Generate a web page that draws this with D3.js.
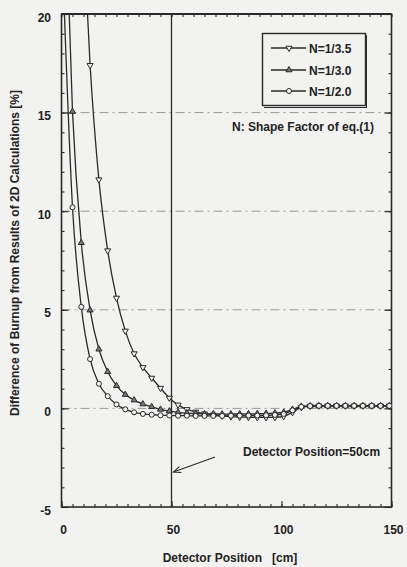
<!DOCTYPE html>
<html><head><meta charset="utf-8">
<script src="https://cdn.jsdelivr.net/npm/d3@7"></script>
<style>
html,body{margin:0;padding:0;background:#f2f2f0;}
svg{display:block;}
text{font-family:"Liberation Sans",Arial,sans-serif;font-weight:bold;fill:#222;font-size:12px;}
</style></head><body>
<svg id="c" width="407" height="567"></svg>
<script>
// ---- data ----
const positions = [1,5,9,13,17,21,25,29,33,37,41,45,49,53,57,61,65,69,73,77,81,85,89,93,97,101,105,109,113,117,121,125,129,133,137,141,145,149];
const seriesNames = ["N=1/3.5","N=1/3.0","N=1/2.0"];
const n35 = [null,null,26.3,17.4,11.6,8.0,5.6,3.93,2.78,2.08,1.54,1.03,0.53,0.18,-0.05,-0.18,-0.27,-0.33,-0.38,-0.42,-0.44,-0.45,-0.46,-0.46,-0.45,-0.4,-0.2,0.05,0.12,0.13,0.13,0.13,0.13,0.13,0.13,0.13,0.13,0.13];
const n30 = [28.3,15.05,8.4,4.98,3.0,1.86,1.15,0.7,0.42,0.22,0.08,-0.05,-0.14,-0.2,-0.24,-0.26,-0.28,-0.28,-0.29,-0.29,-0.28,-0.28,-0.27,-0.26,-0.24,-0.2,-0.05,0.1,0.12,0.13,0.13,0.13,0.13,0.13,0.13,0.13,0.13,0.13];
const n20 = [21,10.2,5.15,2.5,1.25,0.62,0.2,-0.05,-0.2,-0.28,-0.32,-0.35,-0.36,-0.37,-0.37,-0.38,-0.38,-0.38,-0.38,-0.37,-0.37,-0.36,-0.36,-0.35,-0.33,-0.28,-0.1,0.08,0.12,0.13,0.13,0.13,0.13,0.13,0.13,0.13,0.13,0.13];
const yTicks = [-5,0,5,10,15,20];
const xTicks = [0,50,100,150];
const gridValues = [0,5,10,15];
const detectorPos = 50;

// ---- layout ----
const L = 61.5, R = 391.5, T = 14, B = 507;
const ink = "#2a2a2a";
const svg = d3.select("#c");
const x = d3.scaleLinear().domain([0,150]).range([L,R]);
const y = d3.scaleLinear().domain([-5,20]).range([B,T]);

svg.append("defs").append("clipPath").attr("id","clip")
  .append("rect").attr("x",L).attr("y",T).attr("width",R-L).attr("height",B-T);

// grid lines (dash-dot)
svg.append("g").selectAll("line").data(gridValues).join("line")
  .attr("x1",L).attr("x2",R).attr("y1",d=>y(d)).attr("y2",d=>y(d))
  .attr("stroke","#999").attr("stroke-width",1).attr("stroke-dasharray","9,4,2,4");

// detector position line
svg.append("line").attr("x1",x(detectorPos)).attr("x2",x(detectorPos)).attr("y1",T).attr("y2",B)
  .attr("stroke",ink).attr("stroke-width",1.3);

// axes with inward ticks
function axisGroup(axis, tx, ty){
  const g = svg.append("g").attr("transform",`translate(${tx},${ty})`).call(axis);
  g.selectAll("text").remove(); g.select(".domain").remove();
  g.selectAll("line").attr("stroke",ink).attr("stroke-width",1.1);
  return g;
}
const yMinor = d3.range(-5,21,1);
const xMinor = d3.range(0,151,5);
axisGroup(d3.axisLeft(y).tickValues(yMinor).tickSize(-3), L, 0);
axisGroup(d3.axisLeft(y).tickValues(yTicks).tickSize(-7), L, 0);
axisGroup(d3.axisRight(y).tickValues(yMinor).tickSize(-3), R, 0);
axisGroup(d3.axisRight(y).tickValues(yTicks).tickSize(-7), R, 0);
axisGroup(d3.axisBottom(x).tickValues(xMinor).tickSize(-3), 0, B);
axisGroup(d3.axisBottom(x).tickValues(xTicks).tickSize(-6), 0, B);
axisGroup(d3.axisTop(x).tickValues(xMinor).tickSize(-3), 0, T);

// frame
svg.append("rect").attr("x",L).attr("y",T).attr("width",R-L).attr("height",B-T)
  .attr("fill","none").attr("stroke",ink).attr("stroke-width",1.6);
svg.append("line").attr("x1",L).attr("x2",R).attr("y1",T).attr("y2",T).attr("stroke",ink).attr("stroke-width",2.2);

// tick labels
svg.append("g").selectAll("text").data(yTicks).join("text")
  .attr("x",51).attr("y",d=>y(d)+7.5).attr("text-anchor","end").text(d=>d);
svg.append("g").selectAll("text").data(xTicks).join("text")
  .attr("x",d=>x(d)+2).attr("y",534).attr("text-anchor","middle").text(d=>d);

// titles
svg.append("text").attr("x",230).attr("y",562).attr("text-anchor","middle")
  .style("white-space","pre").text("Detector Position   [cm]");
svg.append("text").attr("transform","translate(19,253) rotate(-90)").attr("text-anchor","middle")
  .text("Difference of Burnup from Results of 2D Calculations [%]");

// series
const series = [
  {name:seriesNames[0], values:n35, sym:"down", fill:"#f2f2f0"},
  {name:seriesNames[1], values:n30, sym:"up", fill:"#777"},
  {name:seriesNames[2], values:n20, sym:"circle", fill:"#f2f2f0"}
];
function symPath(s){
  if(s==="circle") return d3.symbol(d3.symbolCircle,20)();
  return d3.symbol(d3.symbolTriangle,16)();
}
const line = d3.line().defined(d=>d[1]!==null).x(d=>x(d[0])).y(d=>y(d[1])).curve(d3.curveMonotoneX);
const plot = svg.append("g").attr("clip-path","url(#clip)");
series.forEach(s=>{
  const pts = positions.map((p,i)=>[p,s.values[i]]);
  plot.append("path").datum(pts).attr("d",line).attr("fill","none").attr("stroke",ink).attr("stroke-width",1.3);
  plot.append("g").selectAll("path").data(pts.filter(d=>d[1]!==null && d[1]<=20)).join("path")
    .attr("d",symPath(s.sym))
    .attr("transform",d=>`translate(${x(d[0])},${y(d[1])})${s.sym==="down"?" rotate(180)":""}`)
    .attr("fill",s.fill).attr("stroke",ink).attr("stroke-width",1);
});

// legend
const lg = svg.append("g");
lg.append("line").attr("x1",264).attr("x2",367).attr("y1",107.5).attr("y2",107.5).attr("stroke",ink).attr("stroke-width",1);
lg.append("rect").attr("x",262.5).attr("y",33.5).attr("width",103).attr("height",72)
  .attr("fill","#f2f2f0").attr("stroke",ink).attr("stroke-width",1.4);
lg.append("line").attr("x1",366.5).attr("x2",366.5).attr("y1",35).attr("y2",107.5).attr("stroke",ink).attr("stroke-width",1);
const ly = [48,70,91];
series.forEach((s,i)=>{
  lg.append("line").attr("x1",271).attr("x2",306).attr("y1",ly[i]).attr("y2",ly[i]).attr("stroke",ink).attr("stroke-width",1.3);
  lg.append("path").attr("d",symPath(s.sym)).attr("transform",`translate(289,${ly[i]})${s.sym==="down"?" rotate(180)":""}`)
    .attr("fill",s.fill).attr("stroke",ink).attr("stroke-width",1);
  lg.append("text").attr("x",309).attr("y",ly[i]+4.5).text(s.name);
});
svg.append("text").attr("x",232).attr("y",131).text("N: Shape Factor of eq.(1)");

// annotation
svg.append("text").attr("x",243).attr("y",456).text("Detector Position=50cm");
const ax0=215, ay0=457, ax1=x(detectorPos)+2, ay1=472;
svg.append("line").attr("x1",ax0).attr("y1",ay0).attr("x2",ax1).attr("y2",ay1).attr("stroke",ink).attr("stroke-width",1.1);
const ang = Math.atan2(ay0-ay1, ax0-ax1);
const hl = 8, ha = 0.4;
svg.append("path").attr("d",`M${ax1+hl*Math.cos(ang+ha)},${ay1+hl*Math.sin(ang+ha)}L${ax1},${ay1}L${ax1+hl*Math.cos(ang-ha)},${ay1+hl*Math.sin(ang-ha)}`)
  .attr("fill","none").attr("stroke",ink).attr("stroke-width",1.1);
</script>
</body></html>
